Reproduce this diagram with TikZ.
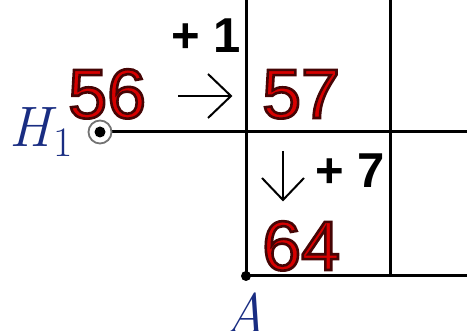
\documentclass[tikz,border=0pt]{standalone}
\usepackage{fontspec}
\setsansfont{Liberation Sans}
\definecolor{numred}{RGB}{215,0,0}
\definecolor{numdark}{RGB}{70,5,5}
\definecolor{ptblue}{RGB}{25,45,130}
\tikzset{
  grid/.style={line width=3pt},
  bignum/.style={inner sep=0pt, font=\sffamily\fontsize{70}{70}\selectfont},
  incr/.style={inner sep=0pt, font=\sffamily\bfseries\fontsize{49}{49}\selectfont},
  ptlabel/.style={inner sep=0pt, text=ptblue, font=\fontsize{57}{57}\selectfont},
  thinarrow/.style={line width=2pt},
}
\newcommand{\bignumtext}[1]{{\color{numred}\special{pdf:literal 2 Tr 2.6 w 0.27 0.02 0.02 RG}#1\special{pdf:literal 0 Tr}}}
\begin{document}
\begin{tikzpicture}[x=1pt,y=-1pt]
\useasboundingbox (0,0) rectangle (467,331);
% grid
\coordinate (H1) at (100,132);
\coordinate (A) at (246,276);
\coordinate (t1) at (246,0);
\coordinate (t2) at (390,0);
\coordinate (m2) at (390,132);
\coordinate (b2) at (390,276);
\coordinate (mr) at (467,132);
\coordinate (br) at (467,276);
\draw[grid] (t1) -- (A);
\draw[grid] (t2) -- (b2);
\draw[grid] (H1) -- (mr);
\draw[grid] (A) -- (br);
% points
\draw[line width=1.8pt, draw=black!55, fill=white] (H1) circle (11.5);
\fill (H1) circle (5.5);
\fill (A) circle (5);
% numbers
\node[bignum, anchor=base west] (n56) at (68,118) {\bignumtext{56}};
\node[bignum, anchor=base west] (n57) at (262,118) {\bignumtext{57}};
\node[bignum, anchor=base west] (n64) at (262,270) {\bignumtext{64}};
% increments
\node[incr, anchor=base west] (p1) at (171,53) {+ 1};
\node[incr, anchor=base west] (p7) at (315,188) {+ 7};
% arrows
\coordinate (ra1) at (178,96);
\coordinate (ra2) at (231,96);
\draw[thinarrow] (ra1) -- (ra2);
\draw[thinarrow] (208,74) -- (ra2) -- (208,118);
\coordinate (da1) at (283,151);
\coordinate (da2) at (283,200);
\draw[thinarrow] (da1) -- (da2);
\draw[thinarrow] (262,178) -- (da2) -- (304,178);
% labels
\node[ptlabel, anchor=base west] (lH) at (9,147) {\itshape H\hspace{3pt}\raisebox{-10pt}{\upshape\fontsize{42}{42}\selectfont 1}};
\node[ptlabel, anchor=base] (lA) at (245,334) {\itshape A};
\end{tikzpicture}
\end{document}
